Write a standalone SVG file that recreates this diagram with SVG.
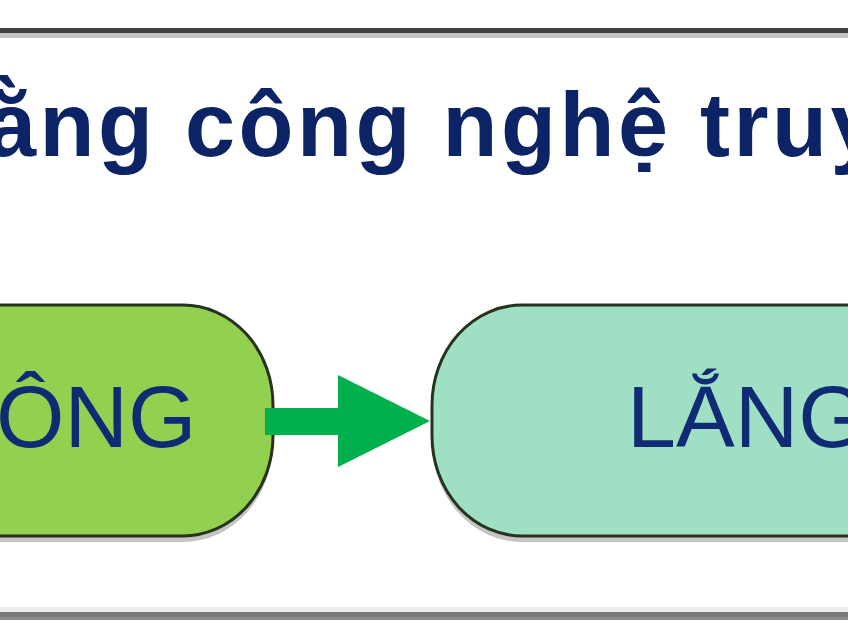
<svg xmlns="http://www.w3.org/2000/svg" width="848" height="640" viewBox="0 0 848 640">
<defs>
<style>
.title{font-family:"Liberation Sans",Arial,sans-serif;font-weight:bold;font-size:90px;letter-spacing:3.5px;fill:#0c2365;}
.lbl{font-family:"Liberation Sans",Arial,sans-serif;font-size:88px;fill:#112a74;}
.node{stroke:#28331f;stroke-width:3;}
.shadow{fill:#c4c4c4;}
</style>
</defs>
<rect x="0" y="0" width="848" height="640" fill="#ffffff"/>
<g id="frame">
<rect x="0" y="28" width="848" height="5" fill="#424242"/>
<rect x="0" y="33" width="848" height="5" fill="#c2c2c2"/>
<rect x="0" y="607" width="848" height="5" fill="#ececec"/>
<rect x="0" y="612" width="848" height="5" fill="#7b7b7b"/>
<rect x="0" y="617" width="848" height="3" fill="#8c8c8c"/>
</g>
<g id="title">
<text class="title" x="-14" y="156">ằng công nghệ truy</text>
</g>
<g id="node-left">
<path class="shadow" d="M-50,309 H183 A90,100 0 0 1 273,409 V442 A90,100 0 0 1 183,542 H-50 Z"/>
<path class="node" fill="#92d050" d="M-50,305 H183 A90,100 0 0 1 273,405 V436 A90,100 0 0 1 183,536 H-50 Z"/>
<text class="lbl" x="-4" y="447">ÔNG</text>
</g>
<g id="node-right">
<path class="shadow" d="M900,309 H522 A90,100 0 0 0 432,409 V442 A90,100 0 0 0 522,542 H900 Z"/>
<path class="node" fill="#9fe0c4" d="M900,305 H522 A90,100 0 0 0 432,405 V436 A90,100 0 0 0 522,536 H900 Z"/>
<text class="lbl" x="627" y="447">LẮNG</text>
</g>
<g id="connectors">
<rect x="265" y="408" width="75" height="27" fill="#00b04c"/>
<polygon points="338,375 430,421 338,467" fill="#00b04c"/>
</g>
</svg>
